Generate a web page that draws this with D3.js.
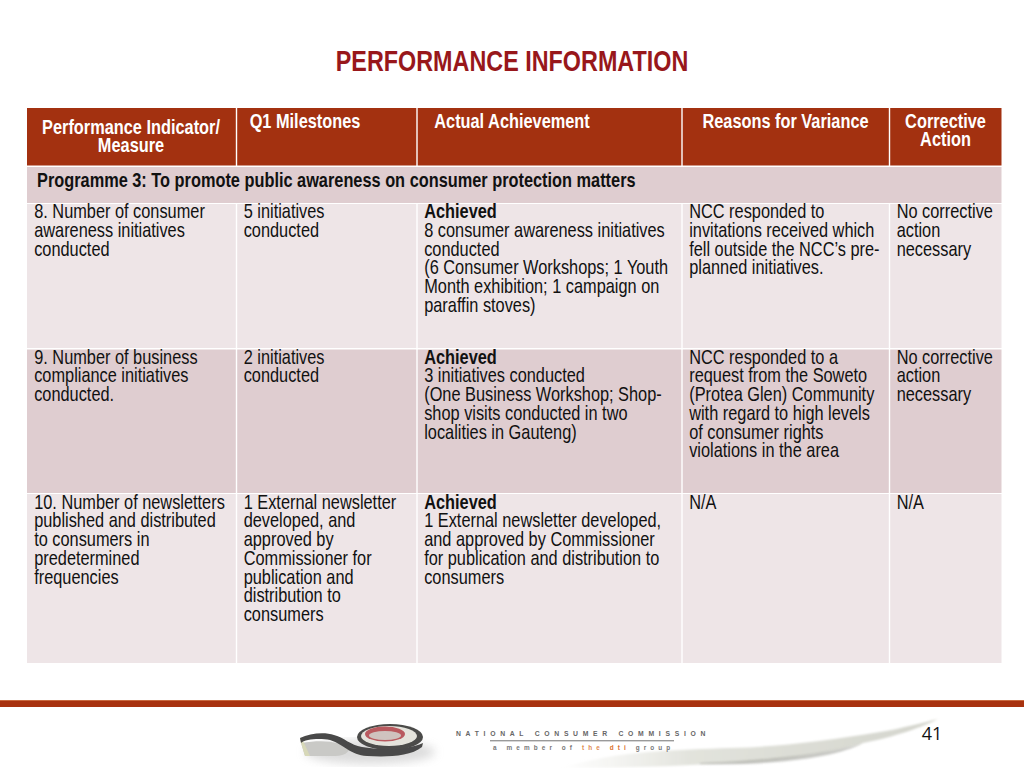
<!DOCTYPE html>
<html><head><meta charset="utf-8">
<script src="https://cdn.jsdelivr.net/npm/d3@7"></script>
<style>html,body{margin:0;padding:0;background:#fff;overflow:hidden}svg{display:block}</style>
</head><body><div id="c"></div>
<script>
const title = "PERFORMANCE INFORMATION";
const columns = ["indicator","milestones","achievement","reasons","action"];
const headers = [
  ["Performance Indicator/","Measure"],
  ["Q1 Milestones"],
  ["Actual Achievement"],
  ["Reasons for Variance"],
  ["Corrective","Action"]
];
const programme = "Programme 3: To promote public awareness on consumer protection matters";
const row8 = [
  ["8. Number of consumer","awareness initiatives","conducted"],
  ["5 initiatives","conducted"],
  ["*Achieved","8 consumer awareness initiatives","conducted","(6 Consumer Workshops; 1 Youth","Month exhibition; 1 campaign on","paraffin stoves)"],
  ["NCC responded to","invitations received which","fell outside the NCC’s pre-","planned initiatives."],
  ["No corrective","action","necessary"]
];
const row9 = [
  ["9. Number of business","compliance initiatives","conducted."],
  ["2 initiatives","conducted"],
  ["*Achieved","3 initiatives conducted","(One Business Workshop; Shop-","shop visits conducted in two","localities in Gauteng)"],
  ["NCC responded to a","request from the Soweto","(Protea Glen) Community","with regard to high levels","of consumer rights","violations in the area"],
  ["No corrective","action","necessary"]
];
const row10 = [
  ["10. Number of newsletters","published and distributed","to consumers in","predetermined","frequencies"],
  ["1 External newsletter","developed, and","approved by","Commissioner for","publication and","distribution to","consumers"],
  ["*Achieved","1 External newsletter developed,","and approved by Commissioner","for publication and distribution to","consumers"],
  ["N/A"],
  ["N/A"]
];
const pageNumber = "41";
const footerLine1 = "NATIONAL CONSUMER COMMISSION";

const FONT = "'Liberation Sans',sans-serif";
const NARROW = 0.817;
const colEdges = [27,236.5,417,682,889.5,1001.5];
const x0 = d3.scaleOrdinal().domain(columns).range(colEdges.slice(0,5));
const x1 = d3.scaleOrdinal().domain(columns).range(colEdges.slice(1));

const svg = d3.select("#c").append("svg").attr("width",1024).attr("height",768);
svg.append("rect").attr("width",1024).attr("height",768).attr("fill","#fff");

const defs = svg.append("defs");
const g1 = defs.append("linearGradient").attr("id","swoosh").attr("x1",0).attr("x2",1).attr("y1",0).attr("y2",0);
g1.append("stop").attr("offset",0).attr("stop-color","#e6e6e0").attr("stop-opacity",0);
g1.append("stop").attr("offset",.35).attr("stop-color","#e2e3dc");
g1.append("stop").attr("offset",1).attr("stop-color","#d4d5cd");
defs.append("filter").attr("id","blur").append("feGaussianBlur").attr("stdDeviation",1.2);
defs.append("filter").attr("id","blur2").append("feGaussianBlur").attr("stdDeviation",5);
defs.append("filter").attr("id","blur3").append("feGaussianBlur").attr("stdDeviation",.6);

function ntext(t,x,y,anchor,size,weight,color){
  return svg.append("text").text(t).attr("transform",`translate(${x},${y}) scale(${NARROW},1)`)
    .attr("text-anchor",anchor).attr("font-family",FONT).attr("font-size",size)
    .attr("font-weight",weight).attr("fill",color);
}

ntext(title,512,71,"middle",28.6,700,"#98171b");

function cell(c,y,h,fill){
  svg.append("rect").attr("x",x0(c)).attr("y",y).attr("width",x1(c)-x0(c)).attr("height",h).attr("fill",fill);
}
function lines(arr,x,y,anchor,color,bold,size){
  arr.forEach((t,i)=>{
    const b = t[0]==="*";
    ntext(b?t.slice(1):t,x,y+i*18.75,anchor,size||20,(bold||b)?700:400,color);
  });
}

// header
columns.forEach(c=>cell(c,108,57.5,"#a33110"));
const headX = {indicator:131,milestones:305,achievement:512,reasons:785.5,action:945.5};
const headY = {indicator:133.5,milestones:127.5,achievement:127.5,reasons:127.5,action:127.5};
columns.forEach((c,i)=>lines(headers[i],headX[c],headY[c],"middle","#fff",true));

// programme band
svg.append("rect").attr("x",27).attr("y",167).attr("width",974.5).attr("height",36).attr("fill","#dfcdd0");
lines([programme],37,186.5,"start","#111",true);

// body rows
const bodyRows = [
  {data:row8,y:204,h:144,fill:"#eee5e7",base:218},
  {data:row9,y:349.5,h:143.5,fill:"#dfcdd0",base:363.5},
  {data:row10,y:494,h:169,fill:"#eee5e7",base:508.5}
];
bodyRows.forEach(r=>columns.forEach(c=>cell(c,r.y,r.h,r.fill)));
bodyRows.forEach(r=>columns.forEach((c,i)=>lines(r.data[i],x0(c)+7.2,r.base,"start","#111",false)));
// white column separators
colEdges.slice(1,5).forEach(x=>{
  svg.append("line").attr("x1",x).attr("x2",x).attr("y1",108).attr("y2",166).attr("stroke","#fff").attr("stroke-width",1.4);
  svg.append("line").attr("x1",x).attr("x2",x).attr("y1",204).attr("y2",663).attr("stroke","#fff").attr("stroke-width",1.4);
});

// footer bar
svg.append("rect").attr("x",0).attr("y",700).attr("width",1024).attr("height",7).attr("fill","#a8320f");
svg.append("rect").attr("x",0).attr("y",700).attr("width",1024).attr("height",1).attr("fill","#c9693f");

// swoosh
svg.append("path").attr("d","M560 768 C620 750,680 750,730 748 C780 747,830 740,880 732 C900 729,925 722,938 719 C925 726,895 737,863 743 C835 752,780 762,730 763 C680 766,620 768,560 768 Z").attr("fill","url(#swoosh)").attr("filter","url(#blur)");
svg.append("path").attr("d","M700 763 C780 760,835 752,863 743 C840 756,780 766,700 764 Z").attr("fill","#9c9d96").attr("opacity",.55).attr("filter","url(#blur)");

// logo
svg.append("ellipse").attr("cx",370).attr("cy",752).attr("rx",65).attr("ry",12).attr("fill","#ccc").attr("opacity",.7).attr("filter","url(#blur2)");
const logo = svg.append("g").attr("filter","url(#blur3)");
logo.append("path").attr("d","M301 743 L305 756 L335 756 C345 756,348 752,350 749 C340 742,325 739,301 743 Z").attr("fill","#c9c9c6");
logo.append("path").attr("d","M300 738 L301 743 L305 756 L310 756 L304 743 Z").attr("fill","#d7d8b8");
logo.append("path").attr("d","M300 738 C310 733,325 732,334 735 C345 738,350 745,362 747 C380 750,408 750,423 743 L422 747 C410 757,385 757,367 756 C350 755,345 745,330 740 C320 738,305 739,301 743 Z").attr("fill","#4a4a48");
logo.append("ellipse").attr("cx",390).attr("cy",737).attr("rx",33).attr("ry",13).attr("fill","#4b4b49");
logo.append("ellipse").attr("cx",389).attr("cy",736).attr("rx",28).attr("ry",10).attr("fill","#e4e3db");
logo.append("ellipse").attr("cx",385).attr("cy",734).attr("rx",20).attr("ry",7.5).attr("fill","#b95a5e");
logo.append("ellipse").attr("cx",385).attr("cy",735.5).attr("rx",16).attr("ry",4.5).attr("fill","#cfc3bf");

// footer text
svg.append("text").text(footerLine1).attr("x",456).attr("y",736).attr("font-family",FONT)
  .attr("font-size",6.8).attr("font-weight",700).attr("letter-spacing",4.7).attr("fill","#666");
svg.append("rect").attr("x",490).attr("y",740).attr("width",184).attr("height",1.4).attr("fill","#9a9a9a");
const tag = svg.append("text").attr("x",493).attr("y",750).attr("font-family",FONT)
  .attr("font-size",6.4).attr("font-weight",700).attr("letter-spacing",4.1).attr("fill","#777");
tag.append("tspan").text("a member of ");
tag.append("tspan").text("the ").attr("fill","#e08a50");
tag.append("tspan").text("dti ").attr("fill","#d9702c");
tag.append("tspan").text("group");

svg.append("text").text(pageNumber).attr("x",932).attr("y",740).attr("text-anchor","middle")
  .attr("font-family","'Open Sans',sans-serif").attr("font-size",18).attr("fill","#111");
</script></body></html>
